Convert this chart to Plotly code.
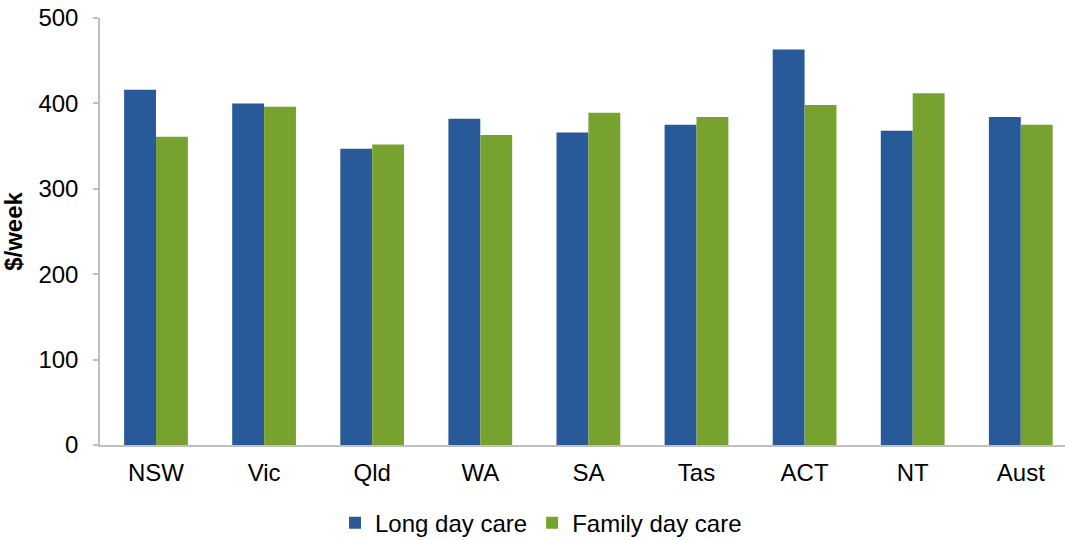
import plotly.graph_objects as go

categories = ["NSW", "Vic", "Qld", "WA", "SA", "Tas", "ACT", "NT", "Aust"]
long_day_care = [416, 400, 347, 382, 366, 375, 463, 368, 384]
family_day_care = [361, 396, 352, 363, 389, 384, 398, 412, 375]
y_ticks = [0, 100, 200, 300, 400, 500]

BLUE = "#285A9A"
GREEN = "#78A22F"
FONT = "Liberation Sans, Arial, sans-serif"
FS = 24

fig = go.Figure()
fig.add_trace(go.Bar(name="Long day care", x=categories, y=long_day_care,
                     marker=dict(color=BLUE, line=dict(width=0))))
fig.add_trace(go.Bar(name="Family day care", x=categories, y=family_day_care,
                     marker=dict(color=GREEN, line=dict(width=0))))

fig.update_layout(
    width=1065, height=540,
    margin=dict(l=100, r=0, t=18, b=95, autoexpand=False),
    paper_bgcolor="white", plot_bgcolor="white",
    font=dict(family=FONT, size=FS, color="#000000"),
    barmode="group", bargap=0.41, bargroupgap=0,
    showlegend=True,
    legend=dict(orientation="h", xref="container", yref="paper",
                x=0.508, xanchor="center", y=-0.183, yanchor="middle",
                font=dict(size=FS), itemwidth=30, tracegroupgap=0,
                bgcolor="rgba(0,0,0,0)"),
)
fig.update_xaxes(
    range=[-0.518, 8.409],
    showline=True, linecolor="#BFBFBF", linewidth=1.5,
    ticks="", showgrid=False, zeroline=False,
    tickfont=dict(size=FS),
    ticklabelstandoff=5,
    automargin=False,
)
fig.update_yaxes(
    range=[0, 500], tickvals=y_ticks, ticktext=[str(v) for v in y_ticks],
    showline=True, linecolor="#BFBFBF", linewidth=1.5,
    ticks="outside", ticklen=5, tickcolor="#BFBFBF", tickwidth=1.5,
    showgrid=False, zeroline=False,
    tickfont=dict(size=FS),
    ticklabelstandoff=10,
    automargin=False,
    title=dict(text="<b>$/week</b>", font=dict(size=FS), standoff=14),
)

# remove the browser's default 8px body margin so the figure fills the window
fig.write_html("out.html",
               config={"displayModeBar": False},
               post_script="document.body.style.margin='0px';document.body.style.overflow='hidden';")
